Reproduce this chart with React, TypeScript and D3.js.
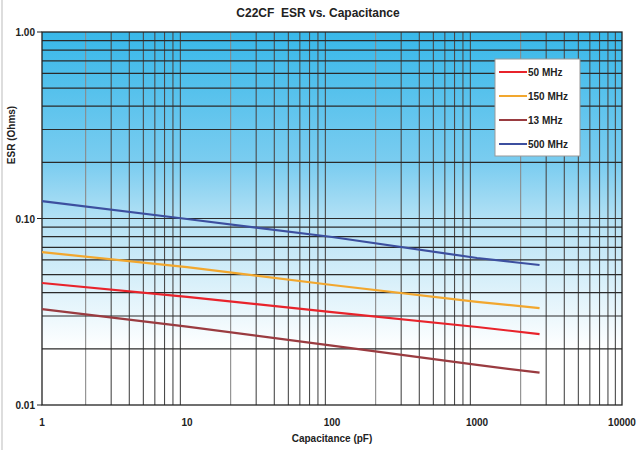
import React, { useEffect, useRef } from "react";
import * as d3 from "d3";

const capacitance = [1, 10, 100, 1000, 2700];
const series = ["50 MHz", "150 MHz", "13 MHz", "500 MHz"];
const colors = ["#e8232b", "#f2a72e", "#9a3b40", "#3c4f9f"];
const esr50 = [0.0451, 0.038, 0.0315, 0.0262, 0.024];
const esr150 = [0.066, 0.0549, 0.044, 0.0357, 0.0331];
const esr13 = [0.0327, 0.0263, 0.0208, 0.0164, 0.0149];
const esr500 = [0.124, 0.0994, 0.0796, 0.0614, 0.0563];
const xTicks = [1, 10, 100, 1000, 10000];
const yTicks = [1, 0.1, 0.01];
const yTickLabels = ["1.00", "0.10", "0.01"];

const W = 637;
const H = 450;
const margin = { top: 32, right: 15, bottom: 45, left: 42 };

const App = () => {
  const ref = useRef<SVGSVGElement>(null);

  useEffect(() => {
    document.body.style.margin = "0";
    const svg = d3.select(ref.current);
    svg.selectAll("*").remove();

    const x = d3.scaleLog().domain([1, 10000]).range([margin.left, W - margin.right]);
    const y = d3.scaleLog().domain([0.01, 1]).range([H - margin.bottom, margin.top]);

    svg.append("rect").attr("width", W).attr("height", H).attr("fill", "#fff");
    svg.append("line").attr("x1", 2).attr("x2", 2).attr("y1", 0).attr("y2", H)
      .attr("stroke", "#bbb").attr("stroke-width", 1);

    // background gradient
    const grad = svg.append("defs").append("linearGradient")
      .attr("id", "bg").attr("gradientUnits", "userSpaceOnUse")
      .attr("x1", 0).attr("x2", 0).attr("y1", y(1)).attr("y2", y(0.02));
    grad.append("stop").attr("offset", "0").attr("stop-color", "#38b8e9");
    grad.append("stop").attr("offset", "0.42").attr("stop-color", "#7ccdf0");
    grad.append("stop").attr("offset", "0.6").attr("stop-color", "#b6e2f5");
    grad.append("stop").attr("offset", "1").attr("stop-color", "#ffffff");
    svg.append("rect")
      .attr("x", x(1)).attr("y", y(1))
      .attr("width", x(10000) - x(1)).attr("height", y(0.01) - y(1))
      .attr("fill", "url(#bg)");

    // grid
    const vGrid: number[] = [];
    for (let d = 1; d < 10000; d *= 10) for (let k = 2; k <= 9; k++) vGrid.push(d * k);
    svg.append("g").selectAll("line").data(vGrid).join("line")
      .attr("x1", (d) => x(d)).attr("x2", (d) => x(d))
      .attr("y1", y(1)).attr("y2", y(0.01))
      .attr("stroke", (d) => (String(d)[0] === "2" ? "#8a8a8a" : "#4a4a4a"))
      .attr("stroke-width", 1.1);

    const hGrid: number[] = [];
    for (let k = 2; k <= 9; k++) hGrid.push(0.1 * k);
    for (let k = 2; k <= 9; k++) hGrid.push(0.01 * k);
    hGrid.push(0.1);
    svg.append("g").selectAll("line").data(hGrid).join("line")
      .attr("x1", x(1)).attr("x2", x(10000))
      .attr("y1", (d) => y(d)).attr("y2", (d) => y(d))
      .attr("stroke", "#2a2a2a").attr("stroke-width", 1.2);

    // frame
    svg.append("rect")
      .attr("x", x(1)).attr("y", y(1))
      .attr("width", x(10000) - x(1)).attr("height", y(0.01) - y(1))
      .attr("fill", "none").attr("stroke", "#222").attr("stroke-width", 1.3);

    // series
    const data = [esr50, esr150, esr13, esr500];
    const line = d3.line<number>()
      .x((_, i) => x(capacitance[i]))
      .y((d) => y(d));
    data.forEach((vals, i) => {
      svg.append("path").datum(vals)
        .attr("d", line)
        .attr("fill", "none")
        .attr("stroke", colors[i])
        .attr("stroke-width", 2.2);
    });

    // axes ticks
    const font = "Arial, 'Liberation Sans', sans-serif";
    svg.append("g").selectAll("line").data(yTicks).join("line")
      .attr("x1", x(1) - 5).attr("x2", x(1))
      .attr("y1", (d) => y(d)).attr("y2", (d) => y(d))
      .attr("stroke", "#222");
    svg.append("g").selectAll("text").data(yTicks).join("text")
      .attr("x", x(1) - 7).attr("y", (d) => y(d) + 4)
      .attr("text-anchor", "end")
      .attr("font-family", font).attr("font-size", 10).attr("font-weight", "bold")
      .attr("fill", "#222")
      .text((_, i) => yTickLabels[i]);
    svg.append("g").selectAll("text").data(xTicks).join("text")
      .attr("x", (d) => x(d)).attr("y", y(0.01) + 21)
      .attr("text-anchor", "middle")
      .attr("font-family", font).attr("font-size", 10).attr("font-weight", "bold")
      .attr("fill", "#222")
      .text((d) => String(d));

    // titles
    svg.append("text").attr("x", 318).attr("y", 17)
      .attr("text-anchor", "middle")
      .attr("font-family", font).attr("font-size", 12).attr("font-weight", "bold")
      .attr("fill", "#222")
      .attr("xml:space", "preserve")
      .text("C22CF  ESR vs. Capacitance");
    svg.append("text").attr("x", x(100)).attr("y", 442)
      .attr("text-anchor", "middle")
      .attr("font-family", font).attr("font-size", 10).attr("font-weight", "bold")
      .attr("fill", "#222")
      .text("Capacitance (pF)");
    svg.append("text")
      .attr("transform", `translate(15,135) rotate(-90)`)
      .attr("text-anchor", "middle")
      .attr("font-family", font).attr("font-size", 10).attr("font-weight", "bold")
      .attr("fill", "#222")
      .text("ESR (Ohms)");

    // legend
    const lg = svg.append("g").attr("transform", "translate(495,59)");
    lg.append("rect").attr("width", 85).attr("height", 97)
      .attr("fill", "#fff").attr("stroke", "#999").attr("stroke-width", 1);
    series.forEach((s, i) => {
      const yy = 13 + i * 24;
      lg.append("line").attr("x1", 4).attr("x2", 32).attr("y1", yy).attr("y2", yy)
        .attr("stroke", colors[i]).attr("stroke-width", 2);
      lg.append("text").attr("x", 33).attr("y", yy + 4)
        .attr("font-family", font).attr("font-size", 10).attr("font-weight", "bold")
        .attr("fill", "#222").text(s);
    });
  }, []);

  return <svg ref={ref} width={W} height={H} style={{ display: "block" }} />;
};

export default App;
